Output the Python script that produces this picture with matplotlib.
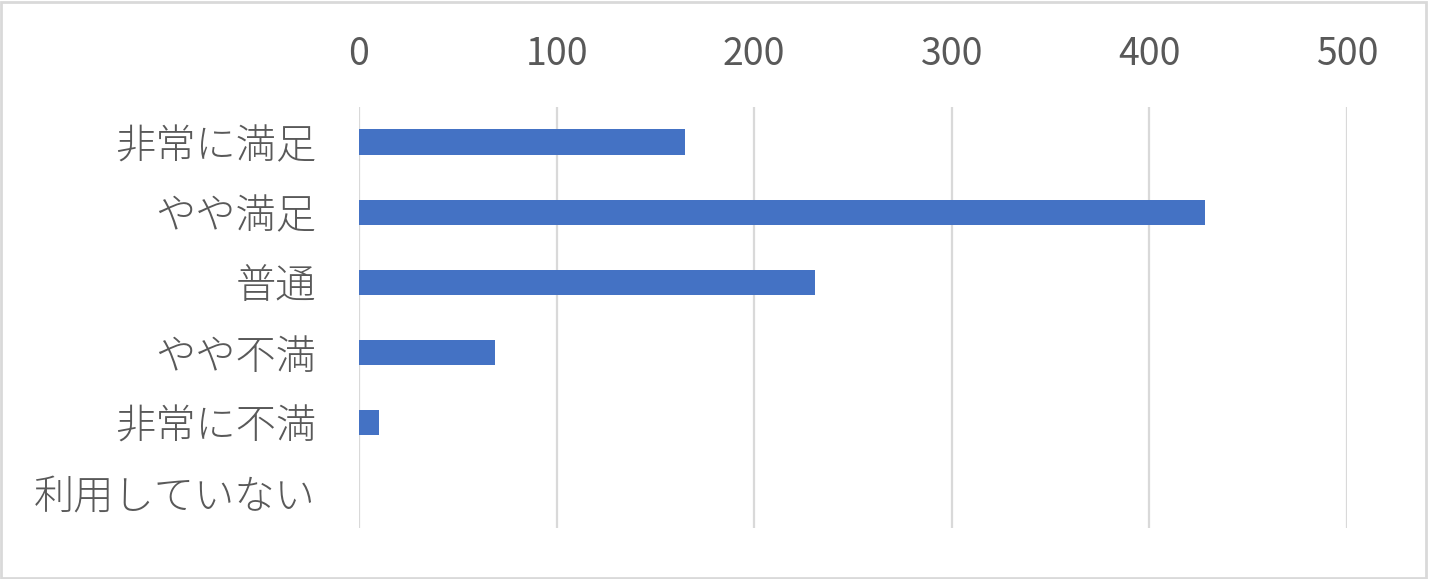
import matplotlib.pyplot as plt
from matplotlib.patches import Rectangle

plt.rcParams['font.family'] = ['Noto Sans CJK JP', 'DejaVu Sans']

categories = ["非常に満足", "やや満足", "普通", "やや不満", "非常に不満", "利用していない"]
counts = [165, 428, 231, 69, 10, 0]
xticks = [0, 100, 200, 300, 400, 500]

fig = plt.figure(figsize=(14.29, 5.79), dpi=100)
ax = fig.add_axes([359/1429, 1 - 528/579, 988/1429, 421/579])

ax.barh(range(len(categories)), counts, height=0.36, color='#4472C4', zorder=3)

ax.set_xlim(0, 500)
ax.set_ylim(len(categories) - 0.5, -0.5)
ax.set_xticks(xticks)
ax.set_yticks(range(len(categories)))
ax.set_yticklabels(categories, fontweight='light')
ax.xaxis.tick_top()
ax.tick_params(axis='x', length=0, pad=24, labelsize=27, labelcolor='#595959')
ax.tick_params(axis='y', length=0, pad=31, labelsize=29, labelcolor='#595959')
ax.grid(axis='x', color='#D9D9D9', linewidth=1.6, zorder=0)
for s in ax.spines.values():
    s.set_visible(False)

fig.patches.append(Rectangle((0.001, 0.002), 0.997, 0.995, transform=fig.transFigure,
                             fill=False, edgecolor='#D9D9D9', linewidth=2))

fig.savefig('out.png', dpi=100)
